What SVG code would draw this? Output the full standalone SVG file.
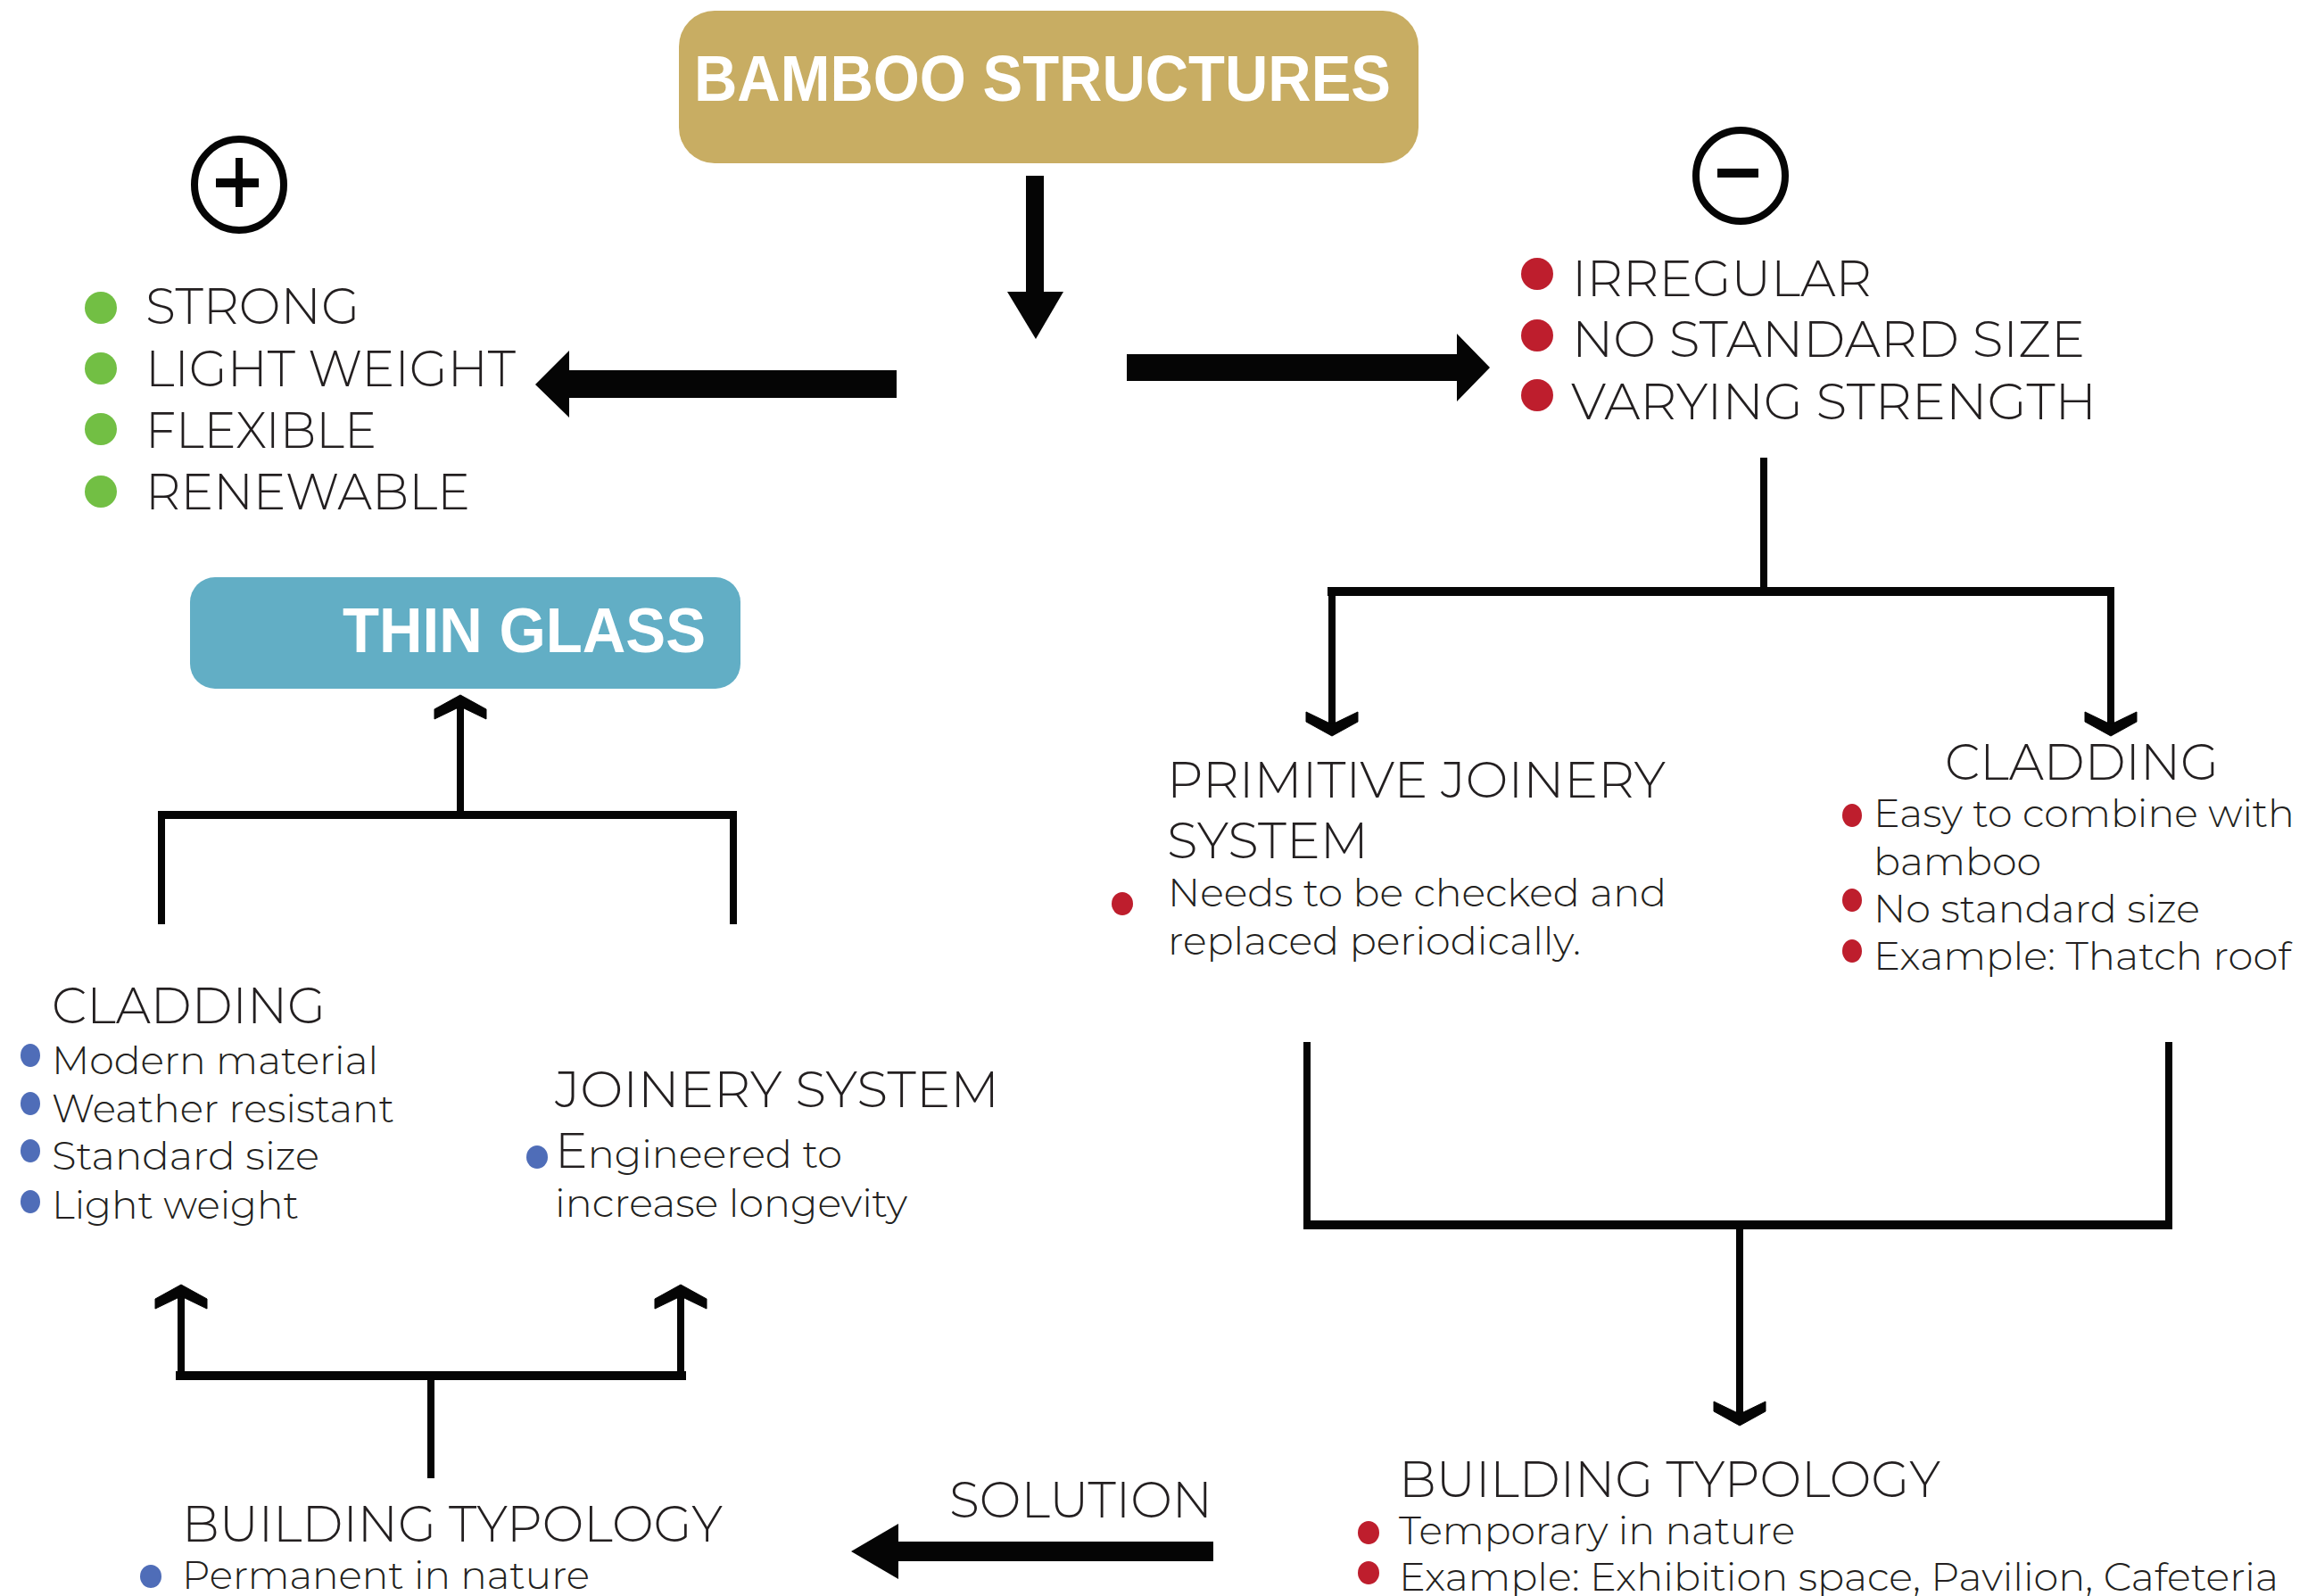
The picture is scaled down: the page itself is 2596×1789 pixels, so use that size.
<svg xmlns="http://www.w3.org/2000/svg" width="2596" height="1789" viewBox="0 0 2596 1789">
<defs>
<style>
.t{font-family:"Montserrat","Open Sans","Noto Sans",sans-serif;font-weight:300;fill:#231f20;}
.cap{font-size:56px;}
.s{font-size:44px;}
.h{font-family:"Liberation Sans","Arial",sans-serif;font-weight:bold;fill:#ffffff;}
.ln{stroke:#050505;stroke-width:8;fill:none;}
.bar{fill:#050505;}
.blk{fill:#050505;}
.g{fill:#72bf44;}
.r{fill:#be1e2d;}
.b{fill:#4f6db8;}
</style>
<marker id="chev" markerUnits="userSpaceOnUse" markerWidth="34" markerHeight="62" viewBox="-30 -31 34 62" refX="-4" refY="0" orient="auto">
<polygon points="-27,-29 -13,0 -27,29 -16,29 0,0 -16,-29" fill="#050505"/>
<polygon points="-27,-29 -13,0 -27,29 -16,29 0,0 -16,-29" fill="none" stroke="#050505" stroke-width="1"/>
</marker>
</defs>
<rect width="2596" height="1789" fill="#ffffff"/>

<g id="bamboo-structures">
<rect x="761" y="12" width="829" height="171" rx="40" ry="40" fill="#c8ad63"/>
<text class="h" x="778" y="113" font-size="72" textLength="781" lengthAdjust="spacingAndGlyphs">BAMBOO STRUCTURES</text>
</g>

<g id="plus-icon">
<ellipse cx="268" cy="207" rx="50" ry="51" fill="none" stroke="#050505" stroke-width="8"/>
<rect x="242" y="200" width="48" height="10" fill="#050505"/>
<rect x="264" y="177" width="8" height="55" fill="#050505"/>
</g>

<g id="minus-icon">
<ellipse cx="1951" cy="197" rx="50" ry="51" fill="none" stroke="#050505" stroke-width="8"/>
<rect x="1925" y="189" width="46" height="10" fill="#050505"/>
</g>

<g id="pros">
<circle class="g" cx="113" cy="345" r="18"/>
<circle class="g" cx="113" cy="413" r="18"/>
<circle class="g" cx="113" cy="481" r="18"/>
<circle class="g" cx="113" cy="551" r="18"/>
<text class="t cap" x="163" y="363" textLength="240" lengthAdjust="spacingAndGlyphs">STRONG</text>
<text class="t cap" x="163" y="433" textLength="415" lengthAdjust="spacingAndGlyphs">LIGHT WEIGHT</text>
<text class="t cap" x="163" y="502" textLength="259" lengthAdjust="spacingAndGlyphs">FLEXIBLE</text>
<text class="t cap" x="163" y="571" textLength="364" lengthAdjust="spacingAndGlyphs">RENEWABLE</text>
</g>

<g id="cons">
<circle class="r" cx="1723" cy="307" r="18"/>
<circle class="r" cx="1723" cy="376" r="18"/>
<circle class="r" cx="1723" cy="443" r="18"/>
<text class="t cap" x="1762" y="332" textLength="336" lengthAdjust="spacingAndGlyphs">IRREGULAR</text>
<text class="t cap" x="1762" y="400" textLength="575" lengthAdjust="spacingAndGlyphs">NO STANDARD SIZE</text>
<text class="t cap" x="1761" y="470" textLength="589" lengthAdjust="spacingAndGlyphs">VARYING STRENGTH</text>
</g>

<g id="primitive-joinery">
<text class="t cap" x="1308" y="894" textLength="559" lengthAdjust="spacingAndGlyphs">PRIMITIVE JOINERY</text>
<text class="t cap" x="1308" y="962" textLength="226" lengthAdjust="spacingAndGlyphs">SYSTEM</text>
<ellipse class="r" cx="1258" cy="1013" rx="12" ry="13"/>
<text class="t s" x="1309" y="1016" textLength="559" lengthAdjust="spacingAndGlyphs">Needs to be checked and</text>
<text class="t s" x="1309" y="1070" textLength="463" lengthAdjust="spacingAndGlyphs">replaced periodically.</text>
</g>

<g id="cladding-bamboo">
<text class="t cap" x="2180" y="874" textLength="307" lengthAdjust="spacingAndGlyphs">CLADDING</text>
<ellipse class="r" cx="2076" cy="914" rx="11" ry="13"/>
<ellipse class="r" cx="2076" cy="1009" rx="11" ry="13"/>
<ellipse class="r" cx="2076" cy="1066" rx="11" ry="13"/>
<text class="t s" x="2100" y="927" textLength="472" lengthAdjust="spacingAndGlyphs">Easy to combine with</text>
<text class="t s" x="2100" y="981" textLength="188" lengthAdjust="spacingAndGlyphs">bamboo</text>
<text class="t s" x="2100" y="1034" textLength="366" lengthAdjust="spacingAndGlyphs">No standard size</text>
<text class="t s" x="2100" y="1087" textLength="468" lengthAdjust="spacingAndGlyphs">Example: Thatch roof</text>
</g>

<g id="building-typology-temporary">
<text class="t cap" x="1568" y="1678" textLength="607" lengthAdjust="spacingAndGlyphs">BUILDING TYPOLOGY</text>
<ellipse class="r" cx="1534" cy="1718" rx="12" ry="13"/>
<ellipse class="r" cx="1534" cy="1763" rx="12" ry="13"/>
<text class="t s" x="1568" y="1731" textLength="444" lengthAdjust="spacingAndGlyphs">Temporary in nature</text>
<text class="t s" x="1568" y="1783" textLength="986" lengthAdjust="spacingAndGlyphs">Example: Exhibition space, Pavilion, Cafeteria</text>
</g>

<g id="thin-glass">
<rect x="213" y="647" width="617" height="125" rx="28" ry="28" fill="#62aec5"/>
<text class="h" x="384" y="731" font-size="70" textLength="407" lengthAdjust="spacingAndGlyphs">THIN GLASS</text>
</g>

<g id="cladding-glass">
<text class="t cap" x="58" y="1147" textLength="307" lengthAdjust="spacingAndGlyphs">CLADDING</text>
<ellipse class="b" cx="34" cy="1183" rx="11" ry="13"/>
<ellipse class="b" cx="34" cy="1237" rx="11" ry="13"/>
<ellipse class="b" cx="34" cy="1290" rx="11" ry="13"/>
<ellipse class="b" cx="34" cy="1347" rx="11" ry="13"/>
<text class="t s" x="58" y="1204" textLength="366" lengthAdjust="spacingAndGlyphs">Modern material</text>
<text class="t s" x="58" y="1258" textLength="384" lengthAdjust="spacingAndGlyphs">Weather resistant</text>
<text class="t s" x="58" y="1311" textLength="300" lengthAdjust="spacingAndGlyphs">Standard size</text>
<text class="t s" x="58" y="1366" textLength="277" lengthAdjust="spacingAndGlyphs">Light weight</text>
</g>

<g id="joinery-system">
<text class="t cap" x="622" y="1241" textLength="498" lengthAdjust="spacingAndGlyphs">JOINERY SYSTEM</text>
<ellipse class="b" cx="602" cy="1297" rx="12" ry="13"/>
<text class="t s" x="622" y="1309" textLength="322" lengthAdjust="spacingAndGlyphs"><tspan font-size="54">E</tspan>ngineered to</text>
<text class="t s" x="622" y="1364" textLength="395" lengthAdjust="spacingAndGlyphs">increase longevity</text>
</g>

<g id="building-typology-permanent">
<text class="t cap" x="204" y="1728" textLength="606" lengthAdjust="spacingAndGlyphs">BUILDING TYPOLOGY</text>
<ellipse class="b" cx="169" cy="1767" rx="12" ry="13"/>
<text class="t s" x="204" y="1781" textLength="457" lengthAdjust="spacingAndGlyphs">Permanent in nature</text>
</g>

<g id="solution-label">
<text class="t cap" x="1064" y="1701" textLength="295" lengthAdjust="spacingAndGlyphs">SOLUTION</text>
</g>

<g id="connectors">
<!-- block arrows -->
<rect class="blk" x="1150" y="197" width="20" height="131"/>
<polygon class="blk" points="1129,327 1192,327 1161,380"/>
<polygon class="blk" points="1005,415 638,415 638,393 600,431 638,468 638,446 1005,446"/>
<polygon class="blk" points="1263,397 1633,397 1633,374 1670,412 1633,450 1633,427 1263,427"/>
<polygon class="blk" points="1360,1728 1007,1728 1007,1708 954,1739 1007,1770 1007,1750 1360,1750"/>

<!-- cons to primitive joinery / cladding -->
<line class="ln" x1="1977" y1="513" x2="1977" y2="663"/>
<rect class="bar" x="1488" y="658" width="882" height="10"/>
<line class="ln" x1="1493" y1="663" x2="1493" y2="821" marker-end="url(#chev)"/>
<line class="ln" x1="2366" y1="663" x2="2366" y2="821" marker-end="url(#chev)"/>

<!-- primitive joinery + cladding to building typology -->
<line class="ln" x1="1465" y1="1168" x2="1465" y2="1374"/>
<line class="ln" x1="2431" y1="1168" x2="2431" y2="1374"/>
<rect class="bar" x="1461" y="1368" width="974" height="10"/>
<line class="ln" x1="1950" y1="1373" x2="1950" y2="1594" marker-end="url(#chev)"/>

<!-- cladding + joinery to thin glass -->
<rect class="bar" x="177" y="909" width="649" height="9"/>
<line class="ln" x1="181" y1="913" x2="181" y2="1036"/>
<line class="ln" x1="822" y1="913" x2="822" y2="1036"/>
<line class="ln" x1="516" y1="913" x2="516" y2="783" marker-end="url(#chev)"/>

<!-- building typology permanent to cladding + joinery -->
<rect class="bar" x="197" y="1537" width="572" height="10"/>
<line class="ln" x1="203" y1="1542" x2="203" y2="1444" marker-end="url(#chev)"/>
<line class="ln" x1="763" y1="1542" x2="763" y2="1444" marker-end="url(#chev)"/>
<line class="ln" x1="483" y1="1547" x2="483" y2="1657"/>
</g>
</svg>
